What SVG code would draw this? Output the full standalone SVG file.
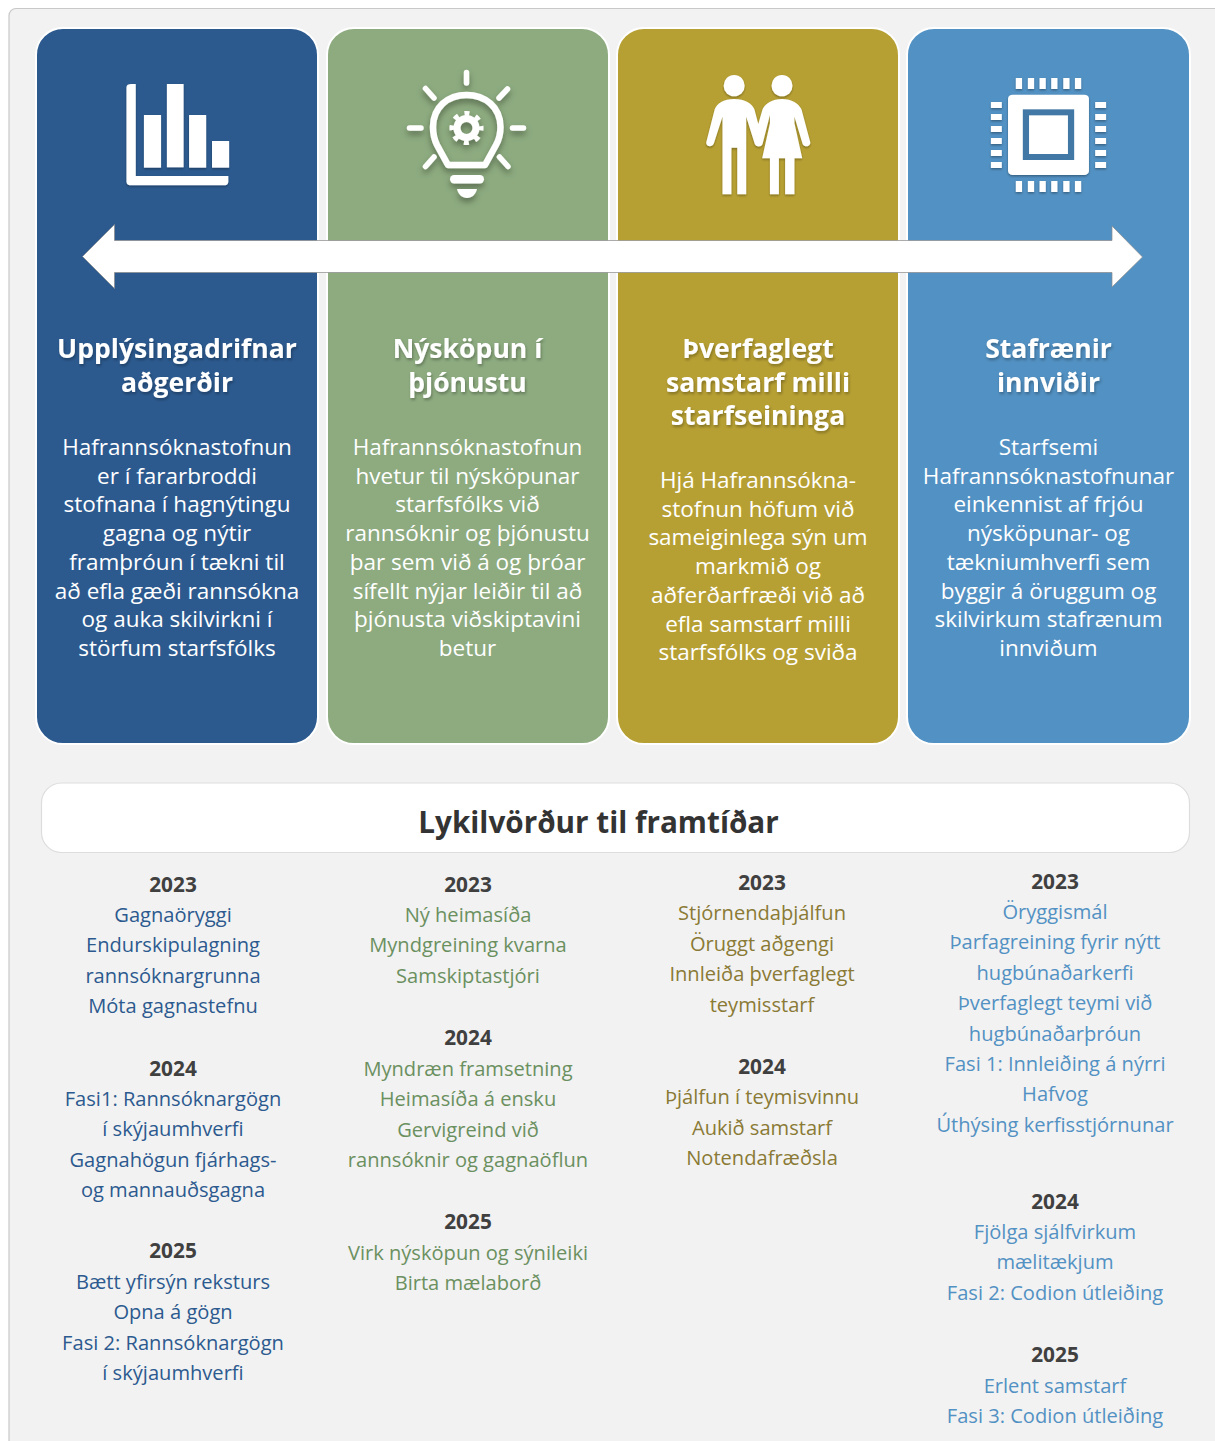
<svg xmlns="http://www.w3.org/2000/svg" width="1215" height="1441" viewBox="0 0 1215 1441">
<style>
text{font-family:"Open Sans","Noto Sans","Liberation Sans",sans-serif;text-anchor:middle}
.card{stroke:#fff;stroke-width:2}
.t{font-size:26.600px;font-weight:700;fill:#fff;filter:url(#ts)}
.b{font-size:22.500px;fill:#fff}
.y{font-size:20.800px;font-weight:700;fill:#404040}
.i{font-size:20.100px}
.c1{fill:#2c5a8f}.c2{fill:#6b9060}.c3{fill:#8a7a35}.c4{fill:#5291c3}
.ic{fill:#fff;filter:url(#ds)}
</style>
<defs>
<filter id="ds" x="-20%" y="-20%" width="140%" height="140%"><feDropShadow dx="0" dy="4" stdDeviation="3" flood-color="#000" flood-opacity=".35"/></filter>
<filter id="ts" x="-5%" y="-10%" width="110%" height="130%"><feDropShadow dx="1" dy="2" stdDeviation="1.500" flood-color="#000" flood-opacity=".3"/></filter>
</defs>
<rect width="1215" height="1441" fill="#fff"/>
<rect id="panel" x="9" y="8.500" width="1230" height="1460" rx="7" fill="#f2f2f2" stroke="#c8c8c8" stroke-width="1.200"/>
<g id="card-1">
<rect class="card c1" x="36" y="28" width="282" height="716" rx="27"/>
<g class="ic" transform="scale(.38903,.33333)">
<path d="M325 262Q325 252 338 252H349V528H587V545Q587 556 575 556H338Q325 556 325 545Z"/>
<rect x="370" y="345" width="44" height="158"/><rect x="429" y="252" width="43" height="250"/><rect x="486" y="345" width="44" height="158"/><rect x="545" y="423" width="44" height="80"/>
</g>
<text class="t"><tspan x="177" y="358">Upplýsingadrifnar</tspan><tspan x="177" y="392">aðgerðir</tspan></text>
<text class="b"><tspan x="177" y="455">Hafrannsóknastofnun</tspan><tspan x="177" y="483.700">er í fararbroddi</tspan><tspan x="177" y="512.400">stofnana í hagnýtingu</tspan><tspan x="177" y="541.100">gagna og nýtir</tspan><tspan x="177" y="569.800">framþróun í tækni til</tspan><tspan x="177" y="598.500">að efla gæði rannsókna</tspan><tspan x="177" y="627.200">og auka skilvirkni í</tspan><tspan x="177" y="655.900">störfum starfsfólks</tspan></text>
</g>
<g id="card-2">
<rect class="card" fill="#8dab7f" x="327" y="28" width="282" height="716" rx="27"/>
<g filter="url(#ds)">
<g fill="none" stroke="#fff" stroke-width="5.500" stroke-linecap="round">
<path d="M466.500 72.500V83M409.500 128H421M512.500 128H523.500M425.500 88.500L434 98M507.500 89L499 98M425.500 166.500L434 157M508 166.500L499.500 157"/>
<path stroke-width="6.500" stroke-linecap="butt" stroke-linejoin="round" d="M448 165L437 145Q433 137 433 127C433 107 448 95 466.500 95S500.500 107 500.500 127Q500.500 137 496 145L485 165Z"/>
<circle cx="466.500" cy="128" r="9.500" stroke-width="7"/>
<circle cx="466.500" cy="128" r="14.800" stroke-width="4.500" stroke-linecap="butt" stroke-dasharray="5 6.620" stroke-dashoffset="2.500"/>
</g>
<rect x="450" y="175" width="34" height="8.500" rx="4.200" fill="#fff"/>
<path d="M457 189H477C476 194 472 198 467 198S458 194 457 189Z" fill="#fff"/>
</g>
<text class="t"><tspan x="467.500" y="358">Nýsköpun í</tspan><tspan x="467.500" y="392">þjónustu</tspan></text>
<text class="b"><tspan x="467.500" y="455">Hafrannsóknastofnun</tspan><tspan x="467.500" y="483.700">hvetur til nýsköpunar</tspan><tspan x="467.500" y="512.400">starfsfólks við</tspan><tspan x="467.500" y="541.100">rannsóknir og þjónustu</tspan><tspan x="467.500" y="569.800">þar sem við á og þróar</tspan><tspan x="467.500" y="598.500">sífellt nýjar leiðir til að</tspan><tspan x="467.500" y="627.200">þjónusta viðskiptavini</tspan><tspan x="467.500" y="655.900">betur</tspan></text>
</g>
<g id="card-3">
<rect class="card" fill="#b7a033" x="617" y="28" width="282" height="716" rx="27"/>
<g class="ic" transform="translate(605,0) scale(.38903,.33333)">
<ellipse cx="332" cy="257" rx="27" ry="32"/><ellipse cx="455" cy="257" rx="27" ry="32"/>
<path d="M332 297C360 297 378 310 384 328L394 372L405 328C412 310 430 297 455 297C480 297 498 310 505 328L528 428C526 442 512 442 508 432L487 350V370L507 475H487V583H463V475H447V583H424V475H404L424 370V345L405 432C402 442 389 442 385 432L363 350V583H340V443H325V583H302V350L280 430C276 442 261 442 260 428L282 328C288 310 304 297 332 297Z"/>
</g>
<text class="t"><tspan x="758" y="358">Þverfaglegt</tspan><tspan x="758" y="392">samstarf milli</tspan><tspan x="758" y="425">starfseininga</tspan></text>
<text class="b"><tspan x="758" y="488">Hjá Hafrannsókna-</tspan><tspan x="758" y="516.700">stofnun höfum við</tspan><tspan x="758" y="545.400">sameiginlega sýn um</tspan><tspan x="758" y="574.100">markmið og</tspan><tspan x="758" y="602.800">aðferðarfræði við að</tspan><tspan x="758" y="631.500">efla samstarf milli</tspan><tspan x="758" y="660.200">starfsfólks og sviða</tspan></text>
</g>
<g id="card-4">
<rect class="card" fill="#5291c3" x="907" y="28" width="283" height="716" rx="27"/>
<g class="ic" transform="translate(605,0) scale(.38903,.33333)">
<path d="M1056 234h16v33h-16zM1087 234h16v33h-16zM1117 234h16v33h-16zM1147 234h16v33h-16zM1178 234h16v33h-16zM1208 234h16v33h-16zM1056 543h16v33h-16zM1087 543h16v33h-16zM1117 543h16v33h-16zM1147 543h16v33h-16zM1178 543h16v33h-16zM1208 543h16v33h-16z"/>
<path d="M992 306h28v18h-28zM992 342h28v18h-28zM992 378h28v18h-28zM992 414h28v18h-28zM992 450h28v18h-28zM992 486h28v18h-28zM1260 306h28v18h-28zM1260 342h28v18h-28zM1260 378h28v18h-28zM1260 414h28v18h-28zM1260 450h28v18h-28zM1260 486h28v18h-28z"/>
<rect x="1036" y="284" width="208" height="241" rx="12"/>
</g>
<g transform="translate(605,0) scale(.38903,.33333)">
<rect x="1074" y="328" width="132" height="152" fill="#4278a5"/>
<rect x="1090" y="346" width="100" height="116" fill="#fff"/>
</g>
<text class="t"><tspan x="1048.500" y="358">Stafrænir</tspan><tspan x="1048.500" y="392">innviðir</tspan></text>
<text class="b"><tspan x="1048.500" y="455">Starfsemi</tspan><tspan x="1048.500" y="483.700">Hafrannsóknastofnunar</tspan><tspan x="1048.500" y="512.400">einkennist af frjóu</tspan><tspan x="1048.500" y="541.100">nýsköpunar- og</tspan><tspan x="1048.500" y="569.800">tækniumhverfi sem</tspan><tspan x="1048.500" y="598.500">byggir á öruggum og</tspan><tspan x="1048.500" y="627.200">skilvirkum stafrænum</tspan><tspan x="1048.500" y="655.900">innviðum</tspan></text>
</g>
<g id="connectors">
<path d="M114.500 240.500H1112V226L1142.500 257L1112 287V272.500H114.500V288.500L82.500 256.500L114.500 224.500Z" fill="#fff" stroke="#8a8a8a" stroke-width=".7"/>
</g>
<g id="title">
<rect x="41.500" y="783" width="1148" height="69.500" rx="20" fill="#fff" stroke="#ddd" stroke-width="1.200"/>
<text x="598.500" y="833" font-size="29.700" font-weight="700" fill="#333">Lykilvörður til framtíðar</text>
</g>
<g id="col-1" class="c1">
<text class="y" x="173" y="892">2023</text>
<text class="i"><tspan x="173" y="922">Gagnaöryggi</tspan><tspan x="173" y="952.400">Endurskipulagning</tspan><tspan x="173" y="982.800">rannsóknargrunna</tspan><tspan x="173" y="1013.200">Móta gagnastefnu</tspan></text>
<text class="y" x="173" y="1076">2024</text>
<text class="i"><tspan x="173" y="1106">Fasi1: Rannsóknargögn</tspan><tspan x="173" y="1136.400">í skýjaumhverfi</tspan><tspan x="173" y="1166.800">Gagnahögun fjárhags-</tspan><tspan x="173" y="1197.200">og mannauðsgagna</tspan></text>
<text class="y" x="173" y="1258">2025</text>
<text class="i"><tspan x="173" y="1289">Bætt yfirsýn reksturs</tspan><tspan x="173" y="1319.400">Opna á gögn</tspan><tspan x="173" y="1349.800">Fasi 2: Rannsóknargögn</tspan><tspan x="173" y="1380.200">í skýjaumhverfi</tspan></text>
</g>
<g id="col-2" class="c2">
<text class="y" x="468" y="892">2023</text>
<text class="i"><tspan x="468" y="922">Ný heimasíða</tspan><tspan x="468" y="952.400">Myndgreining kvarna</tspan><tspan x="468" y="982.800">Samskiptastjóri</tspan></text>
<text class="y" x="468" y="1045">2024</text>
<text class="i"><tspan x="468" y="1076">Myndræn framsetning</tspan><tspan x="468" y="1106.400">Heimasíða á ensku</tspan><tspan x="468" y="1136.800">Gervigreind við</tspan><tspan x="468" y="1167.200">rannsóknir og gagnaöflun</tspan></text>
<text class="y" x="468" y="1229">2025</text>
<text class="i"><tspan x="468" y="1260">Virk nýsköpun og sýnileiki</tspan><tspan x="468" y="1290.400">Birta mælaborð</tspan></text>
</g>
<g id="col-3" class="c3">
<text class="y" x="762" y="890">2023</text>
<text class="i"><tspan x="762" y="920">Stjórnendaþjálfun</tspan><tspan x="762" y="950.500">Öruggt aðgengi</tspan><tspan x="762" y="981">Innleiða þverfaglegt</tspan><tspan x="762" y="1011.500">teymisstarf</tspan></text>
<text class="y" x="762" y="1074">2024</text>
<text class="i"><tspan x="762" y="1104">Þjálfun í teymisvinnu</tspan><tspan x="762" y="1134.500">Aukið samstarf</tspan><tspan x="762" y="1165">Notendafræðsla</tspan></text>
</g>
<g id="col-4" class="c4">
<text class="y" x="1055" y="889">2023</text>
<text class="i"><tspan x="1055" y="919">Öryggismál</tspan><tspan x="1055" y="949.400">Þarfagreining fyrir nýtt</tspan><tspan x="1055" y="979.800">hugbúnaðarkerfi</tspan><tspan x="1055" y="1010.200">Þverfaglegt teymi við</tspan><tspan x="1055" y="1040.600">hugbúnaðarþróun</tspan><tspan x="1055" y="1071">Fasi 1: Innleiðing á nýrri</tspan><tspan x="1055" y="1101.400">Hafvog</tspan><tspan x="1055" y="1131.800">Úthýsing kerfisstjórnunar</tspan></text>
<text class="y" x="1055" y="1209">2024</text>
<text class="i"><tspan x="1055" y="1239">Fjölga sjálfvirkum</tspan><tspan x="1055" y="1269.400">mælitækjum</tspan><tspan x="1055" y="1299.800">Fasi 2: Codion útleiðing</tspan></text>
<text class="y" x="1055" y="1362">2025</text>
<text class="i"><tspan x="1055" y="1393">Erlent samstarf</tspan><tspan x="1055" y="1423.400">Fasi 3: Codion útleiðing</tspan></text>
</g>
</svg>
